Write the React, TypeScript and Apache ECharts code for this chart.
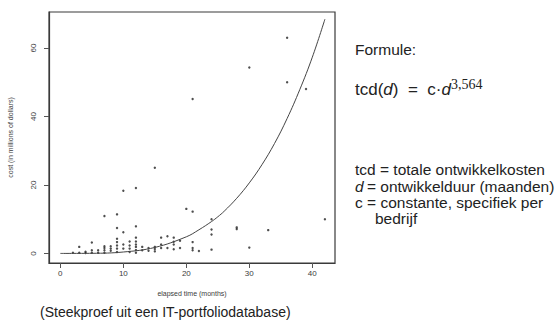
import React, { useEffect, useRef } from "react";
import * as echarts from "echarts";

// Scatter sample: elapsed time (months) and cost (millions of dollars)
const pointMonths = [
  15, 10, 12, 7, 9, 9, 10, 12, 20, 21, 5, 3, 36, 30, 21, 36, 39, 42, 28, 28, 33, 30, 24, 24, 24, 24, 22, 21, 21, 21,
  2, 3, 4, 4, 5, 5, 6, 6, 7, 7, 7, 7, 8, 8, 8, 9, 9, 9, 9, 9, 10, 10, 11, 11, 11, 11, 12, 12, 12, 12, 12, 12,
  13, 13, 14, 14, 15, 15, 15, 16, 16, 16, 17, 17, 18, 18, 18, 18, 19, 19,
];
const pointCosts = [
  25, 18.3, 19.1, 10.9, 11.4, 7.4, 6.2, 7.9, 13, 12.2, 3.2, 1.9, 63, 54.3, 45.1, 50, 48, 10, 7.6, 7.1, 6.8, 1.7, 10, 7, 5.5, 1.1, 0.7, 3.3, 0.9, 1.6,
  0.2, 0.2, 0.5, 0.1, 0.9, 0.2, 0.9, 0.2, 2.1, 1.6, 0.9, 0.2, 2.1, 1.4, 0.8, 4.3, 3.3, 2.3, 1.4, 0.4, 2.6, 1.4, 3.5, 2.3, 1.4, 0.4, 4.6, 3.5, 2.6, 1.9, 1.0, 0.2,
  1.9, 0.9, 1.6, 0.8, 1.9, 1.3, 0.6, 4.6, 2.6, 1.6, 5.0, 1.6, 4.6, 3.4, 2.6, 1.2, 3.7, 1.6,
];

// Fitted curve
const curveMonths = [0, 5, 10, 15, 20, 22, 24, 25, 26, 28, 30, 32, 34, 36, 38, 40, 42];
const curveCosts = [0, 0.03, 0.41, 1.74, 4.85, 6.9, 9.3, 10.7, 12.3, 16.1, 20.6, 25.9, 32.1, 39.4, 47.8, 57.3, 68.4];

const xTicks = [0, 10, 20, 30, 40];
const yTicks = [0, 20, 40, 60];

const formulaLines = [
  "tcd = totale ontwikkelkosten",
  "= ontwikkelduur (maanden)",
  "c = constante, specifiek per",
  "bedrijf",
];

export default function App() {
  const ref = useRef<HTMLDivElement>(null);
  useEffect(() => {
    document.body.style.margin = "0";
    const chart = echarts.init(ref.current!, null, { renderer: "svg" });
    const scatterData = pointMonths.map((m, i) => [m, pointCosts[i]]);
    const curveData = curveMonths.map((m, i) => [m, curveCosts[i]]);
    const txt = "#222";
    const sans = "Liberation Sans, Arial, sans-serif";
    const axisTxt = "#3c3c3c";
    chart.setOption({
      animation: false,
      backgroundColor: "#ffffff",
      grid: {
        left: 49,
        right: 222,
        top: 12,
        bottom: 61,
        show: true,
        borderColor: "#3a3a3a",
        borderWidth: 1.2,
        outerBoundsMode: "none",
      },
      xAxis: {
        type: "value",
        min: -1.8,
        max: 43.6,
        name: "elapsed time (months)",
        nameLocation: "middle",
        nameGap: 27,
        nameTextStyle: { fontSize: 7, color: axisTxt, fontFamily: sans },
        axisLine: { show: true, onZero: false, lineStyle: { color: "#3a3a3a", width: 1.2 } },
        axisTick: { show: true, inside: false, length: 5, customValues: xTicks, lineStyle: { color: "#555" } },
        axisLabel: { customValues: xTicks, fontSize: 8, color: axisTxt, margin: 6, fontFamily: sans },
        splitLine: { show: false },
      },
      yAxis: {
        type: "value",
        min: -2.8,
        max: 70.5,
        name: "cost (in millions of dollars)",
        nameLocation: "middle",
        nameGap: 35,
        nameRotate: 90,
        nameTextStyle: { fontSize: 7, color: axisTxt, fontFamily: sans },
        axisLine: { show: true, onZero: false, lineStyle: { color: "#3a3a3a", width: 1.2 } },
        axisTick: { show: true, inside: false, length: 5, customValues: yTicks, lineStyle: { color: "#555" } },
        axisLabel: { customValues: yTicks, fontSize: 8, color: axisTxt, margin: 12, rotate: 90, fontFamily: sans },
        splitLine: { show: false },
      },
      series: [
        {
          type: "scatter",
          data: scatterData,
          symbol: "circle",
          symbolSize: 2.4,
          itemStyle: { color: "#222" },
          silent: true,
        },
        {
          type: "line",
          data: curveData,
          smooth: 0.4,
          showSymbol: false,
          lineStyle: { color: "#444", width: 1 },
          silent: true,
        },
      ],
      graphic: [
        {
          type: "text",
          left: 355,
          top: 41,
          style: { text: "Formule:", fontSize: 15.5, fontFamily: sans, fill: txt },
        },
        {
          type: "text",
          left: 355,
          top: 77,
          style: {
            text: "{a|tcd(}{i|d}{a|)  =  c·}{i|d}{s|3,564}",
            rich: {
              a: { fontSize: 17, fontFamily: sans, fill: txt, lineHeight: 24 },
              i: { fontSize: 17, fontFamily: sans, fontStyle: "italic", fill: txt, lineHeight: 24 },
              s: { fontSize: 14, fontFamily: "Liberation Serif, serif", fill: txt, verticalAlign: "top", lineHeight: 14 },
            },
          },
        },
        {
          type: "text",
          left: 355,
          top: 161,
          style: { text: formulaLines[0], fontSize: 15.5, fontFamily: sans, fill: txt },
        },
        {
          type: "text",
          left: 355,
          top: 178,
          style: {
            text: "{i|d} {a|" + formulaLines[1] + "}",
            rich: {
              a: { fontSize: 15.5, fontFamily: sans, fill: txt },
              i: { fontSize: 15.5, fontFamily: sans, fontStyle: "italic", fill: txt },
            },
          },
        },
        {
          type: "text",
          left: 355,
          top: 194,
          style: { text: formulaLines[2], fontSize: 15.5, fontFamily: sans, fill: txt },
        },
        {
          type: "text",
          left: 375,
          top: 210,
          style: { text: formulaLines[3], fontSize: 15.5, fontFamily: sans, fill: txt },
        },
        {
          type: "text",
          left: 40,
          top: 305,
          style: { text: "(Steekproef uit een IT-portfoliodatabase)", fontSize: 14, fontFamily: sans, fill: txt },
        },
      ],
    });
    return () => chart.dispose();
  }, []);
  return (
    <div
      ref={ref}
      style={{ position: "fixed", left: 0, top: 0, width: 557, height: 324, background: "#fff" }}
    />
  );
}
